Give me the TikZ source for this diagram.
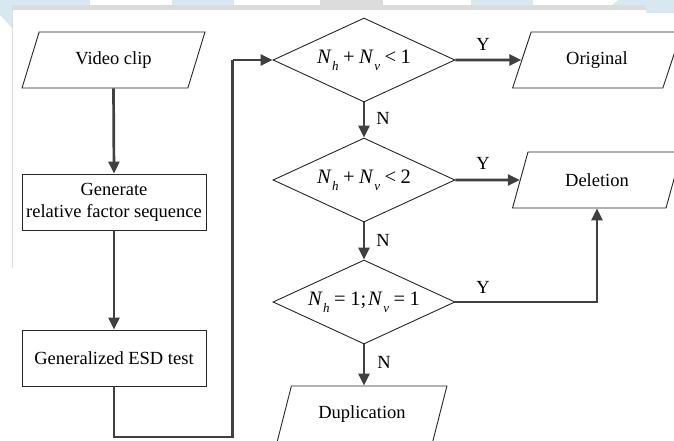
\documentclass[tikz,border=0pt]{standalone}
\usepackage{fontspec}
\setmainfont{Liberation Serif}
\usetikzlibrary{shapes.geometric,arrows.meta}

\definecolor{pageblue}{HTML}{D8E8F0}
\definecolor{pagegray}{HTML}{DCDCDC}
\definecolor{wire}{HTML}{404040}

% italic variable with a lowered italic index, set from the text font
\newcommand{\varidx}[2]{\textit{#1}\kern0.5pt\raisebox{-0.36em}{\fontsize{13}{13}\selectfont\textit{#2}}}
\newcommand{\opsp}[1]{\kern4.5pt#1\kern4.5pt}

\begin{document}
\begin{tikzpicture}[x=1pt,y=-1pt,
  every node/.style={font=\fontsize{18.5}{22}\selectfont, text=black},
  shape line/.style={draw=black!85, line width=0.9pt, fill=white},
  iobox/.style={shape line, trapezium, trapezium left angle=66, trapezium right angle=114,
    trapezium stretches=true, minimum width=#1, minimum height=56pt, inner sep=2pt},
  iobox/.default=170pt,
  procbox/.style={shape line, rectangle, minimum width=184pt, minimum height=56pt,
    align=center, inner sep=2pt},
  decision/.style={shape line, diamond, aspect=2.17, minimum width=182pt,
    minimum height=84pt, inner sep=0pt, font=\fontsize{20.5}{24}\selectfont},
  flow/.style={draw=wire, line width=2.7pt, -{Triangle[length=12pt,width=11pt]}},
  link/.style={draw=wire, line width=2.7pt},
  tag/.style={font=\fontsize{18.5}{22}\selectfont}
]
\useasboundingbox (0,0) rectangle (674,441);

% page background and its frame strip
\fill[white] (0,0) rectangle (674,441);
\fill[pageblue] (0,0) rectangle (674,5);
\fill[white] (90,0) rectangle (172,5);
\fill[white] (234,0) rectangle (320,5);
\fill[pagegray] (320,0) rectangle (383,5);
\fill[white] (383,0) rectangle (471,5);
\fill[white] (533,0) -- (618,0) -- (612,5) -- (533,5) -- cycle;
\fill[pageblue] (0,0) -- (12,0) -- (12,28) -- (0,15) -- cycle;
\fill[pageblue] (646,0) rectangle (674,13);
\fill[pagegray] (12,5) rectangle (646,10);
\draw[pagegray, line width=1pt] (12.5,10) -- (12.5,268);

% left column
\node[iobox=183pt] (clip) at (113.5,60) {Video clip};
\node[procbox] (gen) at (114,202) {Generate\\relative factor sequence};
\node[procbox] (esd) at (114,358) {Generalized ESD test};

% decisions
\node[decision] (d1) at (364,60) {\varidx{N}{h}\opsp{+}\varidx{N}{v}\opsp{<}1};
\node[decision] (d2) at (364,180) {\varidx{N}{h}\opsp{+}\varidx{N}{v}\opsp{<}2};
\node[decision] (d3) at (364,302) {\varidx{N}{h}\opsp{=}1;\kern2pt\varidx{N}{v}\opsp{=}1};

% outcomes
\node[iobox] (orig) at (597,60) {Original};
\node[iobox] (del) at (597,180) {Deletion};
\node[iobox] (dup) at (362,414) {Duplication};

% connectors
\coordinate (loopA) at (114,437);
\coordinate (loopB) at (232.5,437);
\coordinate (loopC) at (232.5,60);
\draw[flow] (clip.south) -- (gen.north);
\draw[flow] (gen.south) -- (esd.north);
\draw[link] (esd.south) -- (loopA) -- (loopB) -- (loopC);
\draw[flow] (loopC) -- (d1.west);

\draw[flow] (d1.east) -- (orig.west);
\draw[flow] (d2.east) -- (del.west);
\draw[flow] (d3.east) -| (del.south);
\node[tag] (y1) at (483,44) {Y};
\node[tag] (y2) at (483,163) {Y};
\node[tag] (y3) at (483,287) {Y};

\draw[flow] (d1.south) -- (d2.north);
\draw[flow] (d2.south) -- (d3.north);
\draw[flow] (d3.south) -- (d3.south |- dup.north);
\node[tag] (n1) at (383,118) {N};
\node[tag] (n2) at (383,240) {N};
\node[tag] (n3) at (384,362) {N};
\end{tikzpicture}
\end{document}
